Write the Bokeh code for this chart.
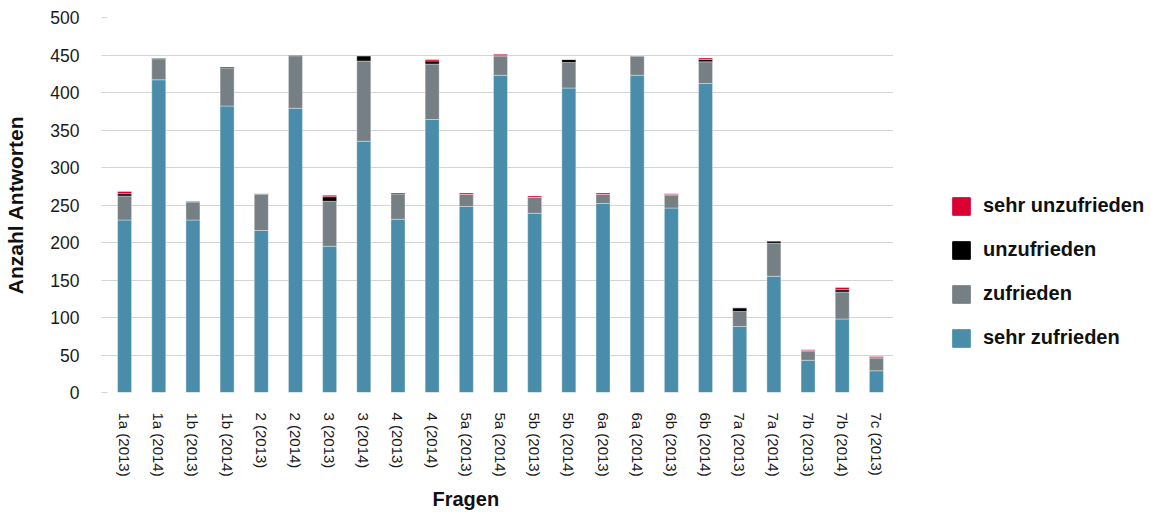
from bokeh.plotting import figure
from bokeh.layouts import row
from bokeh.models import (ColumnDataSource, FactorRange, Range1d, Legend, LegendItem,
                          Title, FixedTicker)
from bokeh.embed import file_html
from bokeh.resources import INLINE

categories = ["1a (2013)", "1a (2014)", "1b (2013)", "1b (2014)", "2 (2013)", "2 (2014)",
              "3 (2013)", "3 (2014)", "4 (2013)", "4 (2014)", "5a (2013)", "5a (2014)",
              "5b (2013)", "5b (2014)", "6a (2013)", "6a (2014)", "6b (2013)", "6b (2014)",
              "7a (2013)", "7a (2014)", "7b (2013)", "7b (2014)", "7c (2013)"]

sehr_zufrieden   = [230, 417, 230, 382, 216, 379, 195, 335, 231, 364, 248, 423,
                    239, 406, 252, 423, 246, 412, 88, 155, 43, 98, 29]
zufrieden        = [32, 28, 24, 50, 48, 70, 60, 107, 33, 74, 16, 26,
                    21, 34, 12, 25, 17, 29, 20, 44, 12, 36, 17]
unzufrieden      = [3, 1, 1, 2, 1, 1, 6, 7, 2, 4, 0, 0,
                    0, 4, 0, 1, 1, 3, 5, 3, 1, 3, 1]
sehr_unzufrieden = [3, 0, 0, 0, 0, 0, 2, 0, 0, 2, 2, 2,
                    2, 0, 2, 0, 1, 2, 0, 0, 1, 3, 1]

series_names = ["sehr zufrieden", "zufrieden", "unzufrieden", "sehr unzufrieden"]
series_colors = ["#4a8daa", "#767f84", "#000000", "#dc0032"]
y_ticks = [0, 50, 100, 150, 200, 250, 300, 350, 400, 450, 500]

FONT = "Liberation Sans"

src = ColumnDataSource(dict(cat=categories, sz=sehr_zufrieden, z=zufrieden,
                            u=unzufrieden, su=sehr_unzufrieden))

p = figure(x_range=FactorRange(factors=categories), y_range=Range1d(0, 500),
           width=893, height=515, output_backend="svg", toolbar_location=None,
           min_border_left=107, min_border_right=0, min_border_top=17, min_border_bottom=123)

rs = p.vbar_stack(["sz", "z", "u", "su"], x="cat", width=0.41, color=series_colors,
                  source=src, line_color="white", line_alpha=0.45, line_width=0.8)

p.outline_line_color = None
p.xgrid.grid_line_color = None
p.ygrid.grid_line_color = "#d4d4d4"
p.ygrid.grid_line_width = 1.2

ya = p.yaxis[0]
ya.ticker = FixedTicker(ticks=y_ticks)
ya.axis_line_color = None
ya.major_tick_out = 6
ya.major_tick_in = 0
ya.major_tick_line_color = "#d4d4d4"
ya.major_tick_line_width = 1.2
ya.minor_tick_line_color = None
ya.major_label_standoff = 22
ya.major_label_text_font = FONT
ya.major_label_text_font_size = "17.5px"
ya.major_label_text_color = "#1a1a1a"
ya.axis_label = "Anzahl Antworten"
ya.axis_label_text_font = FONT
ya.axis_label_text_font_style = "bold"
ya.axis_label_text_font_size = "21px"
ya.axis_label_text_color = "#111111"
ya.axis_label_standoff = 20

xa = p.xaxis[0]
xa.axis_line_color = None
xa.major_tick_line_color = None
xa.major_tick_out = 0
xa.major_tick_in = 0
xa.major_label_orientation = "vertical"
xa.major_label_standoff = 20
xa.major_label_text_font = FONT
xa.major_label_text_font_size = "15px"
xa.major_label_text_color = "#1a1a1a"

p.add_layout(Title(text="Fragen", align="left", offset=325, standoff=12,
                   text_font=FONT, text_font_style="bold", text_font_size="20px",
                   text_color="#111111"), "below")

# legend in a separate panel to the right (frames of a row are aligned)
lf = figure(width=262, height=515, x_range=Range1d(0, 1), y_range=Range1d(0, 1),
            output_backend="svg", toolbar_location=None, min_border=0,
            x_axis_location=None, y_axis_location=None)
lf.outline_line_color = None
lf.xgrid.visible = False
lf.ygrid.visible = False
# swatch renderers kept outside the visible range; they only feed the legend glyphs
swatch = ColumnDataSource(dict(x=[5], top=[1]))
lrs = [lf.vbar(x="x", top="top", width=0.5, source=swatch, color=c) for c in series_colors]
items = [LegendItem(label=series_names[i], renderers=[lrs[i]]) for i in [3, 2, 1, 0]]
legend = Legend(items=items, location=(57, 43), orientation="vertical",
                glyph_width=22, glyph_height=22, label_height=22, spacing=21,
                padding=0, margin=0, label_standoff=11,
                label_text_font=FONT, label_text_font_style="bold",
                label_text_font_size="20px", label_text_color="#111111",
                border_line_color=None, background_fill_alpha=0)
lf.add_layout(legend)

layout = row(p, lf, spacing=0)
open("out.html", "w").write(file_html(layout, INLINE))
